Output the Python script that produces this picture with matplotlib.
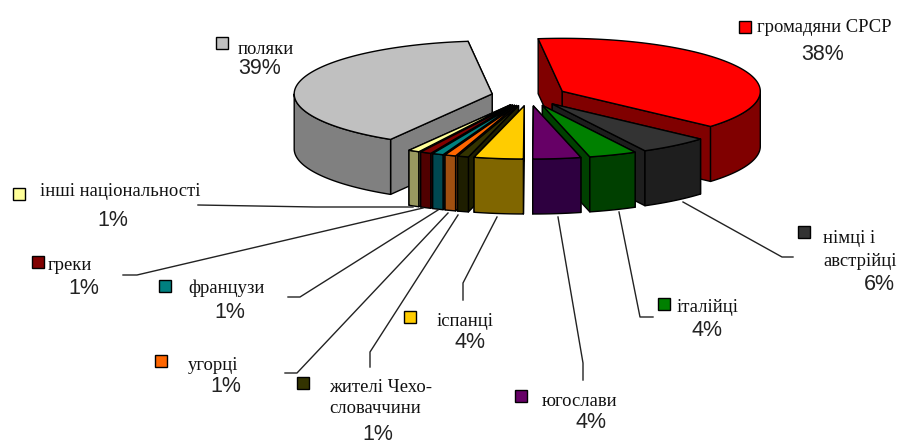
import matplotlib
matplotlib.use("Agg")
import matplotlib.pyplot as plt
import numpy as np
from matplotlib.patches import Polygon, Rectangle

names = ["громадяни СРСР", "німці і\nавстрійці", "італійці", "югослави", "іспанці",
         "жителі Чехо-\nсловаччини", "угорці", "французи", "греки",
         "інші національності", "поляки"]
# the labels show these rounded
values = [38.4, 5.7, 3.9, 3.9, 4.0, 0.9, 0.9, 0.9, 0.9, 0.9, 39.4]
top_colors = ["#FF0000", "#333333", "#008000", "#660066", "#FFCC00",
              "#333300", "#FF6600", "#008080", "#800000", "#FFFF99", "#C0C0C0"]
side_colors = ["#800000", "#1E1E1E", "#004000", "#2E0040", "#806600",
               "#1E1E00", "#A04F10", "#004850", "#500000", "#999960", "#808080"]

# pixel positions of the labels: marker, name, percent, leader line
marker_xy = [(745, 27), (804, 232), (664, 304), (521, 396), (410, 317),
             (303, 383), (161, 361), (165, 286), (38, 262), (19, 194), (222, 43)]
name_xy = [(757, 27), (823, 250), (677, 308), (542, 402), (437, 321),
           (329, 398), (188, 366), (188, 288), (48, 265), (40, 192), (238, 49)]
name_spacing = [1.15, 1.46, 1.15, 1.15, 1.15, 1.29, 1.15, 1.15, 1.15, 1.15, 1.15]
pct_xy = [(823, 55), (879, 284), (707, 331), (591, 422), (470, 343),
          (378, 434), (226, 387), (230, 312), (84, 288), (113, 221), (260, 68)]
leaders = [None,
           [(683, 202), (782, 257), (793, 257)],
           [(619, 212), (640, 317), (653, 317)],
           [(558, 217), (583, 363), (583, 380)],
           [(497, 217), (463, 283), (463, 300)],
           [(458, 215), (370, 352), (370, 367)],
           [(448, 213), (297, 373), (285, 373)],
           [(438, 210), (300, 297), (288, 297)],
           [(423, 208), (137, 275), (123, 275)],
           [(413, 207), (315, 207), (198, 205)],
           None]

cx, cy = 529, 96
rx, ry = 198, 53
depth = 55
explode = 0.19
start = -7.0

serif = "Liberation Serif"
sans = "Liberation Sans"

fig = plt.figure(figsize=(9.16, 4.46), dpi=100)
ax = fig.add_axes([0, 0, 1, 1])
ax.set_xlim(0, 916)
ax.set_ylim(446, 0)
ax.axis("off")


def rim(ox, oy, deg):
    t = np.radians(deg)
    return np.column_stack([ox + rx * np.sin(t), oy - ry * np.cos(t)])


def face(pts, color, z):
    ax.add_patch(Polygon(pts, closed=True, facecolor=color, edgecolor="black",
                         linewidth=1.0, joinstyle="round", zorder=z))


shares = np.array(values) / sum(values) * 360
a1 = start + np.concatenate([[0], np.cumsum(shares)[:-1]])
a2 = a1 + shares
# back slices first, then in towards the front from both sides
order = [10, 9, 8, 7, 6, 5, 4, 0, 1, 2, 3]

z = 1
for i in order:
    mid = np.radians((a1[i] + a2[i]) / 2)
    ox = cx + explode * rx * np.sin(mid)
    oy = cy - explode * ry * np.cos(mid)
    apex = np.array([ox, oy])
    down = np.array([0, depth])
    ends = sorted([a1[i], a2[i]], key=lambda d: rim(ox, oy, np.array([d]))[0][1])
    for d in ends:
        p = rim(ox, oy, np.array([d]))[0]
        face([apex, p, p + down, apex + down], side_colors[i], z)
        z += 1
    lo = max(a1[i], 90)
    hi = min(a2[i], 270)
    if hi > lo:
        arc = rim(ox, oy, np.linspace(lo, hi, 60))
        face(np.vstack([arc, arc[::-1] + down]), side_colors[i], z)
        z += 1
    arc = rim(ox, oy, np.linspace(a1[i], a2[i], 120))
    face(np.vstack([apex, arc]), top_colors[i], z)
    z += 1

for i in range(len(values)):
    mx, my = marker_xy[i]
    ax.add_patch(Rectangle((mx - 6, my - 6), 12, 12, facecolor=top_colors[i],
                           edgecolor="black", linewidth=1.0, zorder=200))
    ax.text(name_xy[i][0], name_xy[i][1], names[i], family=serif, fontsize=13.4,
            ha="left", va="center", color="#111111", linespacing=name_spacing[i], zorder=200)
    ax.text(pct_xy[i][0], pct_xy[i][1], "%.0f%%" % values[i], family=sans, fontsize=15.5,
            ha="center", va="center", color="#222222", zorder=200)
    if leaders[i] is not None:
        xs, ys = zip(*leaders[i])
        ax.plot(xs, ys, color="#222222", linewidth=1.0, zorder=150)

fig.savefig("out.png", dpi=100)
